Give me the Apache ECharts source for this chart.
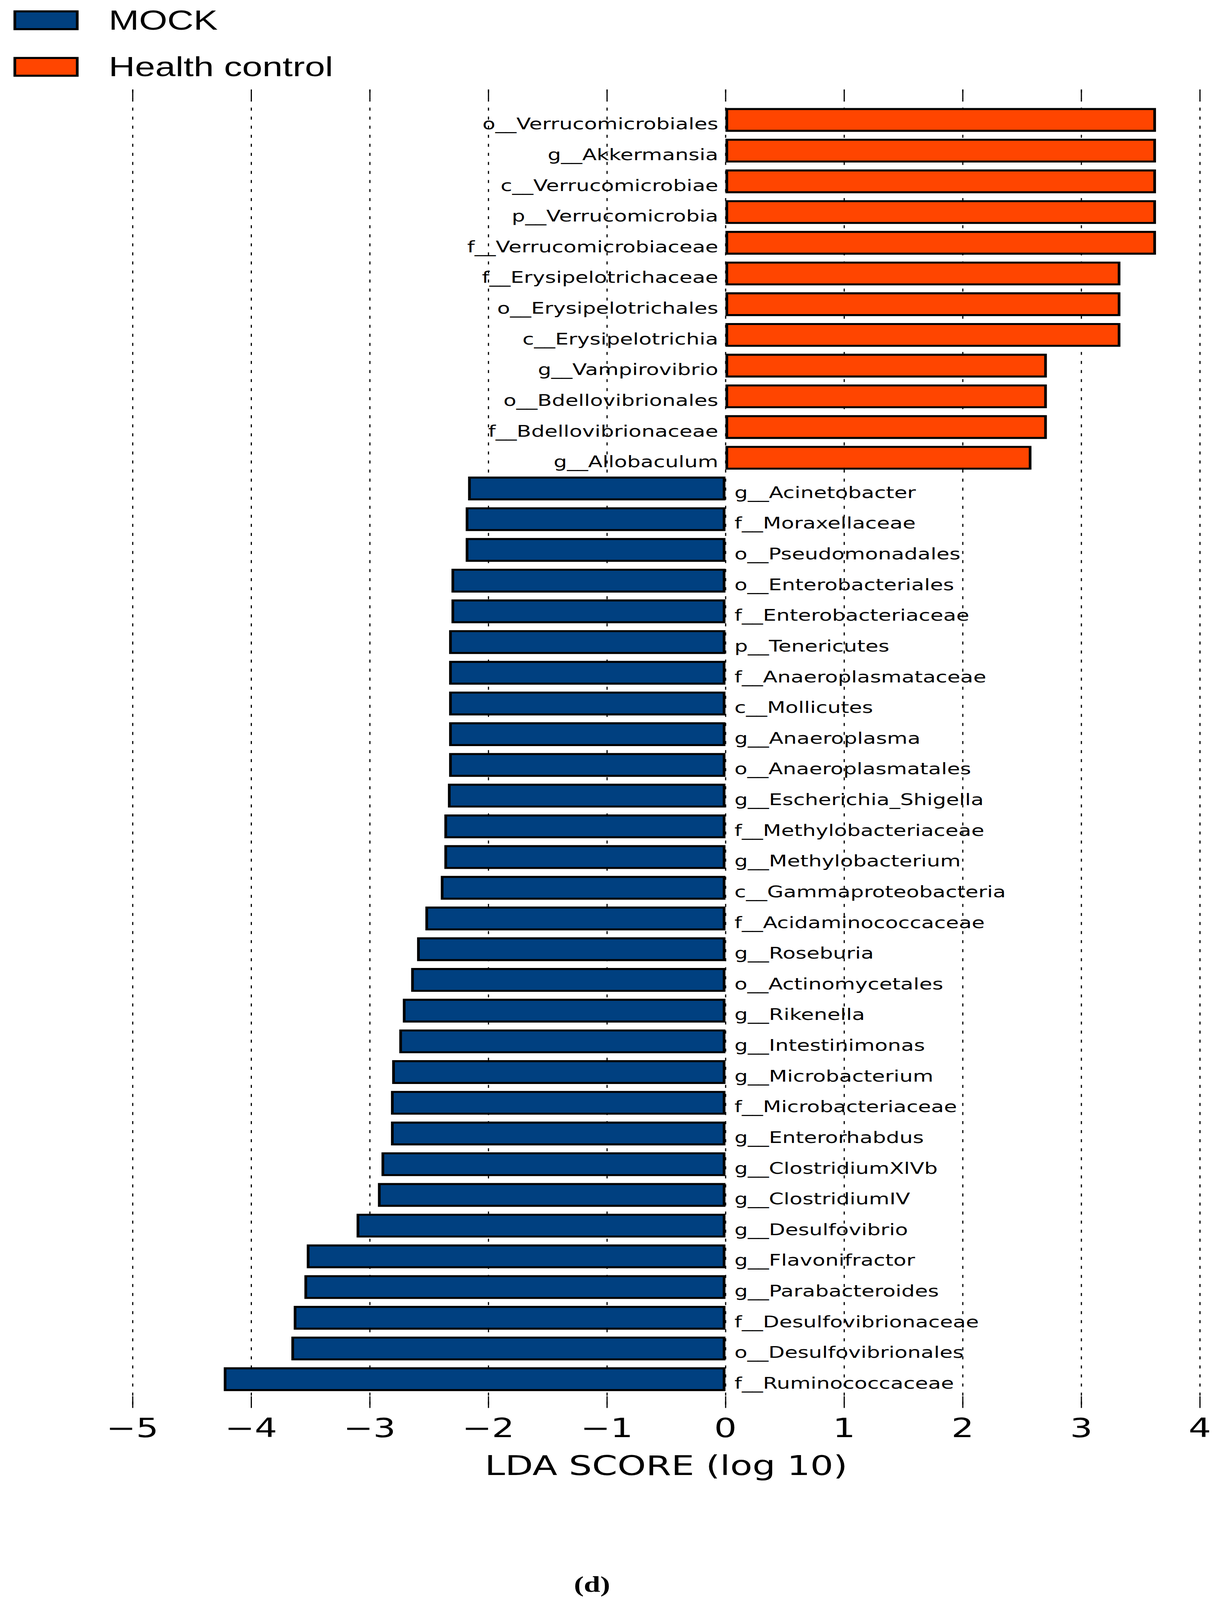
<!DOCTYPE html>
<html>
<head>
<meta charset="utf-8">
<title>LDA score</title>
<script src="https://cdn.jsdelivr.net/npm/echarts@6/dist/echarts.min.js"></script>
<style>
  html, body { margin: 0; padding: 0; background: #fff; overflow: hidden; }
  /* the source figure is stretched sideways, so the chart is drawn narrow and scaled out */
  #chart { width: 2725px; height: 4774px; transform-origin: 0 0; }
</style>
</head>
<body>
<div id="chart"></div>
<script>
// Health control side (positive LDA)
var healthTaxa = ['o__Verrucomicrobiales', 'g__Akkermansia', 'c__Verrucomicrobiae', 'p__Verrucomicrobia',
  'f__Verrucomicrobiaceae', 'f__Erysipelotrichaceae', 'o__Erysipelotrichales', 'c__Erysipelotrichia',
  'g__Vampirovibrio', 'o__Bdellovibrionales', 'f__Bdellovibrionaceae', 'g__Allobaculum'];
var healthScores = [3.63, 3.63, 3.63, 3.63, 3.63, 3.33, 3.33, 3.33, 2.71, 2.71, 2.71, 2.58];

// MOCK side (negative LDA)
var mockTaxa = ['g__Acinetobacter', 'f__Moraxellaceae', 'o__Pseudomonadales', 'o__Enterobacteriales',
  'f__Enterobacteriaceae', 'p__Tenericutes', 'f__Anaeroplasmataceae', 'c__Mollicutes', 'g__Anaeroplasma',
  'o__Anaeroplasmatales', 'g__Escherichia_Shigella', 'f__Methylobacteriaceae', 'g__Methylobacterium',
  'c__Gammaproteobacteria', 'f__Acidaminococcaceae', 'g__Roseburia', 'o__Actinomycetales', 'g__Rikenella',
  'g__Intestinimonas', 'g__Microbacterium', 'f__Microbacteriaceae', 'g__Enterorhabdus', 'g__ClostridiumXlVb',
  'g__ClostridiumIV', 'g__Desulfovibrio', 'g__Flavonifractor', 'g__Parabacteroides', 'f__Desulfovibrionaceae',
  'o__Desulfovibrionales', 'f__Ruminococcaceae'];
var mockScores = [-2.17, -2.19, -2.19, -2.31, -2.31, -2.33, -2.33, -2.33, -2.33, -2.33, -2.34, -2.37, -2.37,
  -2.40, -2.53, -2.60, -2.65, -2.72, -2.75, -2.81, -2.82, -2.82, -2.90, -2.93, -3.11, -3.53, -3.55, -3.64,
  -3.66, -4.23];

var scoreTicks = [-5, -4, -3, -2, -1, 0, 1, 2, 3, 4];

var taxa = healthTaxa.concat(mockTaxa);
var healthData = taxa.map(function (t) {
  var i = healthTaxa.indexOf(t);
  return i >= 0 ? healthScores[i] : '-';
});
var mockData = taxa.map(function (t) {
  var i = mockTaxa.indexOf(t);
  return i >= 0 ? mockScores[i] : '-';
});

var xMin = scoreTicks[0];
var xMax = scoreTicks[scoreTicks.length - 1];
var font = 'DejaVu Sans';

// fit the 2725x4774 drawing into whatever window we get
var box = document.getElementById('chart');
var sx = (window.innerWidth || 3134) / 2725;
var sy = (window.innerHeight || 4774) / 4774;
box.style.transform = 'scale(' + sx + ',' + sy + ')';

var chart = echarts.init(box, null, { renderer: 'svg' });

var option = {
  animation: false,
  backgroundColor: '#fff',
  legend: {
    data: ['MOCK', 'Health control'],
    orient: 'vertical',
    left: 30,
    top: 20,
    padding: 0,
    itemGap: 58,
    itemWidth: 139,
    itemHeight: 53,
    icon: 'rect',
    selectedMode: false,
    itemStyle: { borderColor: '#000', borderWidth: 6 },
    textStyle: {
      fontFamily: 'Liberation Sans',
      fontSize: 81,
      color: '#000',
      padding: [0, 0, 18, 65]
    }
  },
  grid: [
    // axes and dotted lines
    { left: 294.8, right: 53.7, top: 267, bottom: 573, outerBoundsMode: 'none' },
    // bars
    { left: 294.8, right: 53.7, top: 312, bottom: 613, outerBoundsMode: 'none' }
  ],
  xAxis: [
    {
      gridIndex: 0,
      type: 'value',
      position: 'bottom',
      min: xMin,
      max: xMax,
      interval: 1,
      axisLine: { show: false },
      axisTick: { show: true, inside: true, length: 35, lineStyle: { color: '#000', width: 2.6 } },
      axisLabel: {
        show: true,
        margin: 20,
        fontFamily: font,
        fontSize: 79,
        color: '#000',
        showMinLabel: true,
        showMaxLabel: true,
        formatter: function (v) { return String(v).replace('-', '\u2212'); }
      },
      splitLine: { show: true, lineStyle: { color: '#000', width: 2.6, type: [9, 18] } },
      name: 'LDA SCORE (log 10)',
      nameLocation: 'middle',
      nameGap: 132,
      nameMoveOverlap: false,
      nameTextStyle: { fontFamily: font, fontSize: 81, color: '#000' }
    },
    {
      gridIndex: 0,
      type: 'value',
      position: 'top',
      min: xMin,
      max: xMax,
      interval: 1,
      axisLine: { show: false },
      axisTick: { show: true, inside: true, length: 28, lineStyle: { color: '#000', width: 2.6 } },
      axisLabel: { show: false },
      splitLine: { show: false }
    },
    {
      gridIndex: 1,
      type: 'value',
      min: xMin,
      max: xMax,
      interval: 1,
      show: false,
      splitLine: { show: false }
    }
  ],
  yAxis: [
    { gridIndex: 0, type: 'value', show: false, splitLine: { show: false } },
    {
      gridIndex: 1,
      type: 'category',
      data: taxa,
      inverse: true,
      show: false,
      axisLine: { show: false },
      axisTick: { show: false },
      axisLabel: { show: false },
      splitLine: { show: false }
    }
  ],
  series: [
    {
      name: 'MOCK',
      type: 'bar',
      xAxisIndex: 2,
      yAxisIndex: 1,
      data: mockData,
      barWidth: 71,
      barGap: '-100%',
      itemStyle: { color: '#004080', borderColor: '#000', borderWidth: 6 },
      label: {
        show: true,
        position: 'right',
        distance: 20,
        offset: [0, 12],
        formatter: '{b}',
        fontFamily: font,
        fontSize: 47,
        color: '#000'
      }
    },
    {
      name: 'Health control',
      type: 'bar',
      xAxisIndex: 2,
      yAxisIndex: 1,
      data: healthData,
      barWidth: 71,
      barGap: '-100%',
      itemStyle: { color: '#FF4500', borderColor: '#000', borderWidth: 6 },
      label: {
        show: true,
        position: 'left',
        distance: 16,
        offset: [0, 12],
        formatter: '{b}',
        fontFamily: font,
        fontSize: 47,
        color: '#000'
      }
    }
  ],
  graphic: [
    {
      type: 'text',
      x: 1318,
      y: 4727,
      style: {
        text: '(d)',
        fontFamily: 'Liberation Serif',
        fontWeight: 'bold',
        fontSize: 66,
        fill: '#000',
        align: 'center',
        verticalAlign: 'middle'
      }
    }
  ]
};

chart.setOption(option);
</script>
</body>
</html>
